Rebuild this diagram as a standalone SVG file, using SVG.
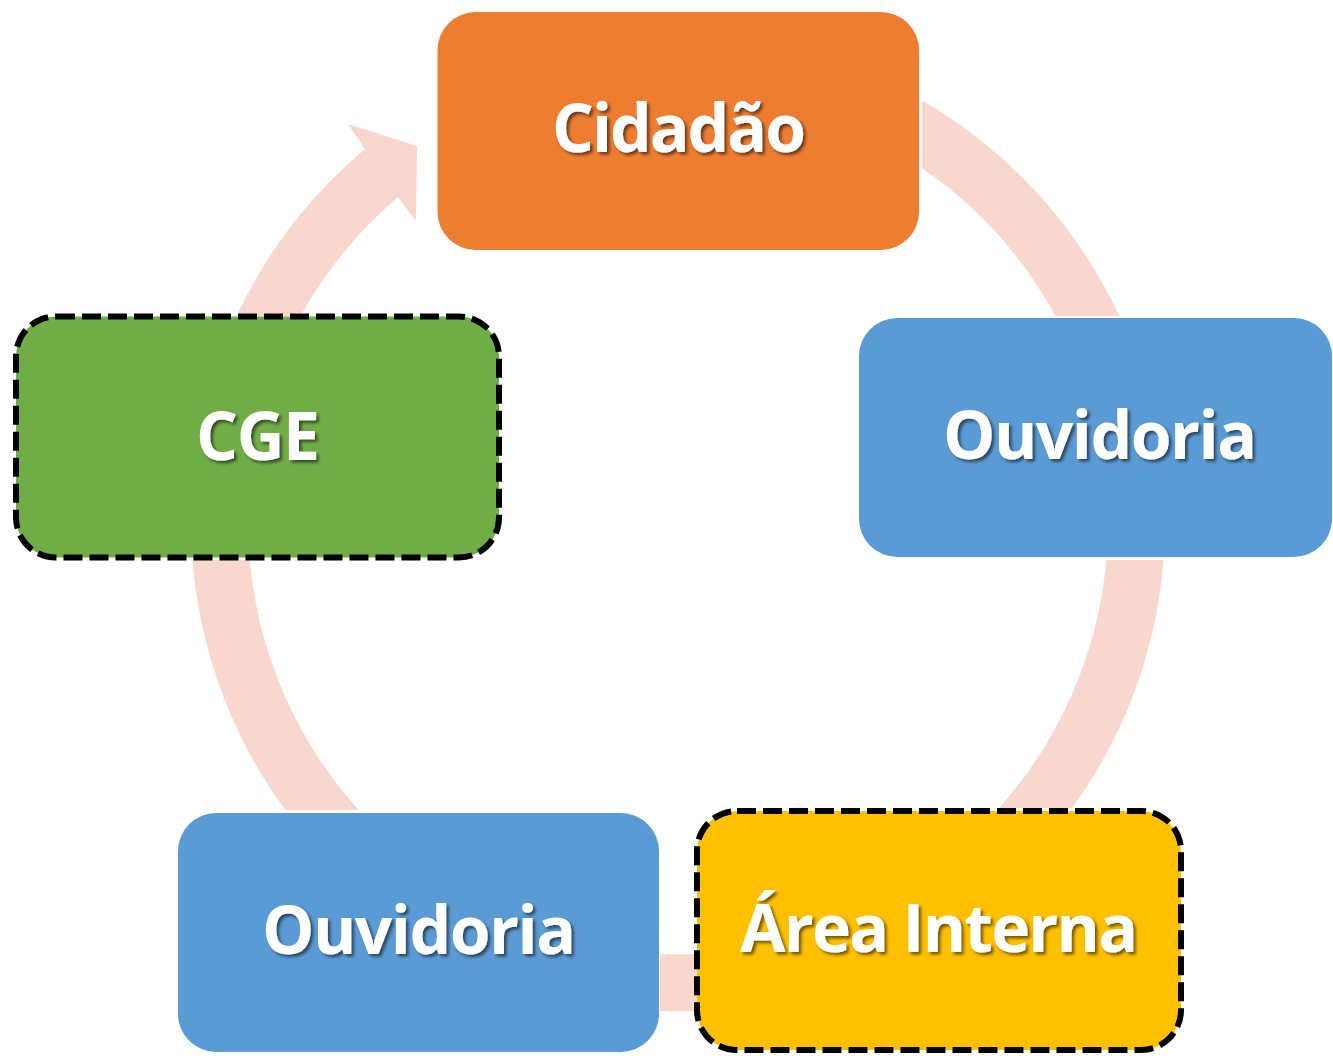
<svg xmlns="http://www.w3.org/2000/svg" width="1333" height="1056" viewBox="0 0 1333 1056">
  <defs>
    <filter id="ts" x="-10%" y="-20%" width="120%" height="150%">
      <feDropShadow dx="2.5" dy="2.5" stdDeviation="1.6" flood-color="#000" flood-opacity="0.55"/>
    </filter>
  </defs>
  <style>
    .band { fill: #F8D8CE; stroke: none; }
    .lbl { font-family: "Open Sans", "Noto Sans", "Liberation Sans", sans-serif; font-weight: 700; font-size: 66px; fill: #FFFFFF; text-anchor: middle; filter: url(#ts); }
    .dash { stroke: #000000; stroke-width: 6; stroke-dasharray: 19 7; }
  </style>
  <rect width="1333" height="1056" fill="#FFFFFF"/>

  <g id="connectors">
    <path class="band" d="M922,100.5 A487,487 0 0 1 1119.3,316 L1055.4,316 A430,430 0 0 0 922,168 Z"/>
    <path class="band" d="M1163.5,560 A487,487 0 0 1 1072.2,808 L999.1,808 A430,430 0 0 0 1106.3,560 Z"/>
    <path class="band" d="M700,1011 A487,487 0 0 1 660,1011 L660,954 A430,430 0 0 0 700,954 Z"/>
    <path class="band" d="M192.5,560 A487,487 0 0 0 285.3,810 L358.7,810 A430,430 0 0 1 249.7,560 Z"/>
    <path class="band" d="M236.7,316 A487,487 0 0 1 365,149 L348,124 L417,146 L416,221 L398,197 A430,430 0 0 0 300.6,316 Z"/>
  </g>

  <g id="node-cidadao">
    <rect x="437.5" y="12" width="481.5" height="238" rx="38" ry="38" fill="#ED7D31"/>
    <text class="lbl" x="679" y="152" textLength="254">Cidadão</text>
  </g>

  <g id="node-ouvidoria-1">
    <rect x="859" y="318" width="473" height="239" rx="38" ry="38" fill="#5B9BD5"/>
    <text class="lbl" x="1100" y="459" textLength="314">Ouvidoria</text>
  </g>

  <g id="node-area-interna">
    <rect class="dash" x="697" y="811" width="484" height="239" rx="40" ry="40" fill="#FFC000"/>
    <text class="lbl" x="939" y="952" textLength="398">Área Interna</text>
  </g>

  <g id="node-ouvidoria-2">
    <rect x="178" y="813" width="481" height="239" rx="38" ry="38" fill="#5B9BD5"/>
    <text class="lbl" x="419" y="954" textLength="314">Ouvidoria</text>
  </g>

  <g id="node-cge">
    <rect class="dash" x="16" y="316.5" width="483" height="241" rx="40" ry="40" fill="#70AD47"/>
    <text class="lbl" x="258" y="460" textLength="124">CGE</text>
  </g>
</svg>
